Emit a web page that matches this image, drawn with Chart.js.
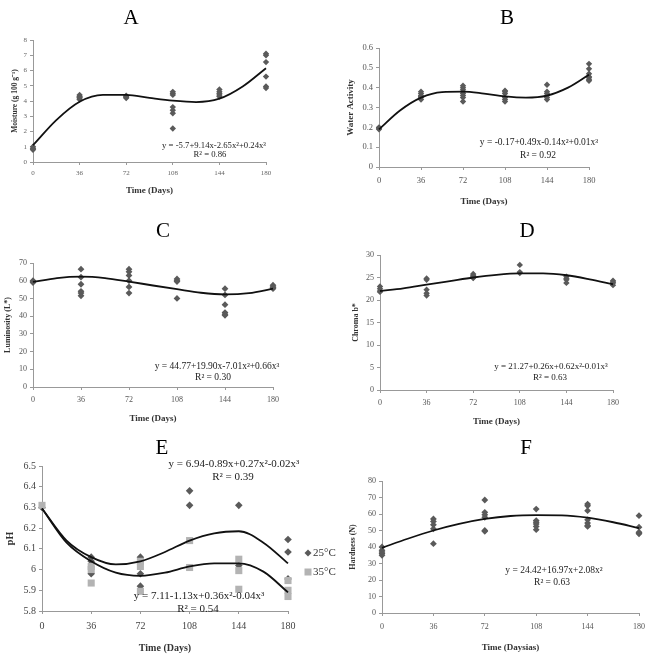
<!DOCTYPE html>
<html>
<head>
<meta charset="utf-8">
<script src="https://cdn.jsdelivr.net/npm/chart.js@4.4.1/dist/chart.umd.min.js"></script>
<style>
html, body { margin: 0; padding: 0; background: #fff; }
body { width: 651px; height: 654px; position: relative; overflow: hidden; }
canvas { position: absolute; }
</style>
</head>
<body>
<canvas id="cA"></canvas>
<canvas id="cB"></canvas>
<canvas id="cC"></canvas>
<canvas id="cD"></canvas>
<canvas id="cF"></canvas>
<canvas id="cE"></canvas>
<script>
// sampling days
const days = [0, 36, 72, 108, 144, 180];
const fitDays = [0, 18, 36, 54, 72, 90, 108, 126, 144, 162, 180];

// A - moisture
const moisture = [[0.8, 0.9, 1.0, 0.85], [4.1, 4.2, 4.3, 4.4, 4.25], [4.2, 4.3, 4.35, 4.25], [4.4, 4.5, 4.6, 3.6, 3.4, 3.2, 2.2], [4.3, 4.4, 4.5, 4.6, 4.75], [7.0, 7.1, 6.55, 5.6, 4.95, 4.85]];
const moistureFit = [1.1, 2.75, 3.95, 4.4, 4.4, 4.2, 4.02, 3.93, 4.15, 4.95, 6.15];

// B - water activity
const water = [[0.19, 0.2, 0.195], [0.34, 0.35, 0.36, 0.37, 0.38, 0.355], [0.33, 0.35, 0.36, 0.37, 0.38, 0.39, 0.4, 0.41], [0.33, 0.34, 0.35, 0.37, 0.38, 0.385], [0.34, 0.35, 0.36, 0.37, 0.38, 0.415], [0.52, 0.495, 0.47, 0.455, 0.45, 0.44, 0.435]];
const waterFit = [0.19, 0.285, 0.35, 0.378, 0.38, 0.37, 0.356, 0.35, 0.36, 0.4, 0.465];

// C - luminosity
const lum = [[59, 60, 59.5], [66.5, 62, 58, 54, 53, 51.5], [66.5, 65, 63, 60, 56.5, 53], [61, 60, 59.5, 50], [55.5, 52, 46.5, 42, 41, 40.5], [57.5, 56.5, 55.5, 56]];
const lumFit = [59.3, 61.5, 62.3, 61.5, 59.5, 57.3, 55.2, 53.2, 52.3, 53, 55.5];

// D - chroma
const chroma = [[23, 22, 21.8, 22.5], [24.8, 24.5, 22.3, 21.5, 21], [25.8, 25.5, 25.2, 24.9, 25.0], [27.8, 26, 26.2], [25.2, 24.5, 23.8, 24.8], [24.3, 23.8, 23.3, 24]];
const chromaFit = [22, 22.6, 23.4, 24.2, 25, 25.6, 25.9, 25.9, 25.5, 24.6, 23.5];

// E - pH at two temperatures
const ph25 = [[6.3], [6.06, 6.04, 5.98], [6.06, 6.04, 5.98, 5.92], [6.38, 6.31], [6.31, 6.02], [6.145, 6.085, 5.955]];
const ph35 = [[6.31], [6.015, 6.0, 5.935], [6.04, 6.015, 5.895], [6.14, 6.01], [6.05, 5.995, 5.905], [5.947, 5.9, 5.87]];
const ph25Fit = [6.295, 6.14, 6.06, 6.025, 6.04, 6.085, 6.14, 6.175, 6.185, 6.13, 6.03];
const ph35Fit = [6.295, 6.13, 6.04, 5.985, 5.97, 5.985, 6.015, 6.03, 6.03, 5.99, 5.89];

// F - hardness
const hard = [[40, 38, 36, 35, 37], [57, 55.5, 53.5, 51, 42], [68.5, 61, 59.5, 58, 50, 49.5], [63, 56, 55, 54, 52.5, 50.5], [66, 65, 62, 56.5, 54.5, 53, 52.5], [59, 52, 48.5, 48, 49]];
const hardFit = [39.5, 45, 50, 54, 57, 58.8, 59.3, 59.2, 57.8, 55, 51.5];

const SERIF = '"Liberation Serif", "Times New Roman", serif';
Chart.defaults.font.family = SERIF;
Chart.defaults.color = '#444';

function toPoints(groups) {
  const pts = [];
  days.forEach((d, i) => groups[i].forEach(v => pts.push({x: d, y: v})));
  return pts;
}
function toCurve(vals) {
  return fitDays.map((d, i) => ({x: d, y: vals[i]}));
}
function curveSet(vals) {
  return {data: toCurve(vals), showLine: true, borderColor: '#111', borderWidth: 1.8,
          pointRadius: 0, cubicInterpolationMode: 'monotone', clip: false};
}
function pointSet(groups, style, color, r) {
  return {data: toPoints(groups), pointStyle: style, pointRadius: r, pointHoverRadius: r,
          backgroundColor: color, borderColor: color, borderWidth: 0, clip: false};
}

function makePanel(id, p) {
  const cv = document.getElementById(id);
  cv.width = p.box.w; cv.height = p.box.h;
  cv.style.left = p.box.x + 'px'; cv.style.top = p.box.y + 'px';
  const bx = p.box, a = p.area;
  const yW = a.l - bx.x, xH = bx.y + bx.h - a.b;
  const xtLH = p.xTitleSize * 1.2, ytLH = p.yTitleSize * 1.2;
  const textPlugin = {
    id: 'panelText' + id,
    afterDatasetsDraw(chart) {
      const ctx = chart.ctx;
      ctx.save();
      ctx.textAlign = 'center';
      ctx.textBaseline = 'middle';
      ctx.fillStyle = '#000';
      ctx.font = '21px ' + SERIF;
      ctx.fillText(p.letter, p.letterAt[0] - bx.x, p.letterAt[1] - bx.y);
      ctx.fillStyle = '#222';
      ctx.font = p.eqSize + 'px ' + SERIF;
      p.eq.forEach(e => ctx.fillText(e[0], e[1] - bx.x, e[2] - bx.y));
      if (p.legend) {
        ctx.textAlign = 'left';
        ctx.font = '11px ' + SERIF;
        p.legend.forEach(l => {
          const x = l.x - bx.x, y = l.y - bx.y;
          ctx.fillStyle = l.color;
          ctx.beginPath();
          if (l.shape === 'diamond') {
            ctx.moveTo(x, y - 3.5); ctx.lineTo(x + 3.5, y); ctx.lineTo(x, y + 3.5); ctx.lineTo(x - 3.5, y);
          } else {
            ctx.rect(x - 3.5, y - 3.5, 7, 7);
          }
          ctx.fill();
          ctx.fillStyle = '#333';
          ctx.fillText(l.text, x + 5, y + 0.5);
        });
      }
      ctx.restore();
    }
  };
  return new Chart(cv, {
    type: 'scatter',
    data: {datasets: p.datasets},
    options: {
      responsive: false,
      animation: false,
      events: [],
      layout: {padding: {left: 0, top: a.t - bx.y, right: bx.x + bx.w - a.r, bottom: 0}},
      plugins: {legend: {display: false}, tooltip: {enabled: false}},
      scales: {
        x: {
          type: 'linear', min: 0, max: 180,
          afterFit: s => { s.height = xH; },
          ticks: {stepSize: 36, font: {size: p.tickSize}, color: p.tickColor, padding: p.xTickPad, maxRotation: 0},
          grid: {display: true, drawOnChartArea: false, tickLength: 3, color: '#999'},
          border: {color: '#999'},
          title: {display: true, text: p.xTitle, font: {size: p.xTitleSize, weight: 'bold'}, color: '#333',
                  padding: {top: 0, bottom: bx.y + bx.h - p.xTitleY - xtLH / 2}}
        },
        y: {
          type: 'linear', min: p.yMin, max: p.yMax,
          afterFit: s => { s.width = yW; },
          ticks: {stepSize: p.yStep, font: {size: p.tickSize}, color: p.tickColor, padding: 3,
                  callback: v => String(Number(v.toFixed(2)))},
          grid: {display: true, drawOnChartArea: false, tickLength: 3, color: '#999'},
          border: {color: '#999'},
          title: {display: true, text: p.yTitle, font: {size: p.yTitleSize, weight: 'bold'}, color: '#333',
                  padding: {top: p.yTitleX - bx.x - ytLH / 2, bottom: 0}}
        }
      }
    },
    plugins: [textPlugin]
  });
}

const DARK = '#5a5a5a';
const LIGHT = '#b3b3b3';

makePanel('cA', {
  box: {x: 0, y: 0, w: 320, h: 207}, area: {l: 33, t: 40, r: 266, b: 162},
  yMin: 0, yMax: 8, yStep: 1, tickSize: 7, tickColor: '#666', xTickPad: 4,
  yTitle: 'Moisture (g 100 g⁻¹)', yTitleX: 15, yTitleSize: 7.5,
  xTitle: 'Time (Days)', xTitleY: 191, xTitleSize: 9,
  letter: 'A', letterAt: [131, 18], eqSize: 8.7,
  eq: [['y = -5.7+9.14x-2.65x²+0.24x³', 214, 146], ['R² = 0.86', 210, 155]],
  datasets: [curveSet(moistureFit), pointSet(moisture, 'rectRot', DARK, 3.2)]
});

makePanel('cB', {
  box: {x: 320, y: 0, w: 331, h: 212}, area: {l: 379, t: 48, r: 589, b: 167},
  yMin: 0, yMax: 0.6, yStep: 0.1, tickSize: 8.5, tickColor: '#555', xTickPad: 6,
  yTitle: 'Water Activity', yTitleX: 351, yTitleSize: 9,
  xTitle: 'Time (Days)', xTitleY: 202, xTitleSize: 9,
  letter: 'B', letterAt: [507, 18], eqSize: 9.5,
  eq: [['y = -0.17+0.49x-0.14x²+0.01x³', 539, 142], ['R² = 0.92', 538, 155]],
  datasets: [curveSet(waterFit), pointSet(water, 'rectRot', DARK, 3.2)]
});

makePanel('cC', {
  box: {x: 0, y: 207, w: 320, h: 225}, area: {l: 33, t: 263, r: 273, b: 387},
  yMin: 0, yMax: 70, yStep: 10, tickSize: 8, tickColor: '#555', xTickPad: 5,
  yTitle: 'Luminosity (L*)', yTitleX: 8, yTitleSize: 8,
  xTitle: 'Time (Days)', xTitleY: 419, xTitleSize: 9,
  letter: 'C', letterAt: [163, 231], eqSize: 9.5,
  eq: [['y = 44.77+19.90x-7.01x²+0.66x³', 217, 366], ['R² = 0.30', 213, 377]],
  datasets: [curveSet(lumFit), pointSet(lum, 'rectRot', DARK, 3.4)]
});

makePanel('cD', {
  box: {x: 320, y: 207, w: 331, h: 225}, area: {l: 380, t: 255, r: 613, b: 390},
  yMin: 0, yMax: 30, yStep: 5, tickSize: 8, tickColor: '#555', xTickPad: 5,
  yTitle: 'Chroma b*', yTitleX: 356, yTitleSize: 8,
  xTitle: 'Time (Days)', xTitleY: 422, xTitleSize: 9,
  letter: 'D', letterAt: [527, 231], eqSize: 9,
  eq: [['y = 21.27+0.26x+0.62x²-0.01x³', 551, 367], ['R² = 0.63', 550, 378]],
  datasets: [curveSet(chromaFit), pointSet(chroma, 'rectRot', DARK, 3.2)]
});

makePanel('cE', {
  box: {x: 0, y: 432, w: 350, h: 222}, area: {l: 42, t: 466, r: 288, b: 611},
  yMin: 5.8, yMax: 6.5, yStep: 0.1, tickSize: 10, tickColor: '#444', xTickPad: 6,
  yTitle: 'pH', yTitleX: 10, yTitleSize: 10,
  xTitle: 'Time (Days)', xTitleY: 648, xTitleSize: 10,
  letter: 'E', letterAt: [162, 448], eqSize: 11,
  eq: [['y = 6.94-0.89x+0.27x²-0.02x³', 234, 464], ['R² = 0.39', 233, 477],
       ['y = 7.11-1.13x+0.36x²-0.04x³', 199, 596], ['R² = 0.54', 198, 609]],
  legend: [{shape: 'diamond', color: DARK, text: '25°C', x: 308, y: 553},
           {shape: 'square', color: LIGHT, text: '35°C', x: 308, y: 572}],
  datasets: [curveSet(ph25Fit), curveSet(ph35Fit),
             pointSet(ph35, 'rect', LIGHT, 5), pointSet(ph25, 'rectRot', DARK, 3.8)]
});

makePanel('cF', {
  box: {x: 320, y: 432, w: 331, h: 222}, area: {l: 382, t: 481, r: 642, b: 613},
  yMin: 0, yMax: 80, yStep: 10, tickSize: 8, tickColor: '#555', xTickPad: 6,
  yTitle: 'Hardness (N)', yTitleX: 353, yTitleSize: 8,
  xTitle: 'Time (Daysias)', xTitleY: 648, xTitleSize: 9,
  letter: 'F', letterAt: [526, 448], eqSize: 9.5,
  eq: [['y = 24.42+16.97x+2.08x²', 554, 570], ['R² = 0.63', 552, 582]],
  datasets: [curveSet(hardFit), pointSet(hard, 'rectRot', DARK, 3.4)]
});
</script>
</body>
</html>
